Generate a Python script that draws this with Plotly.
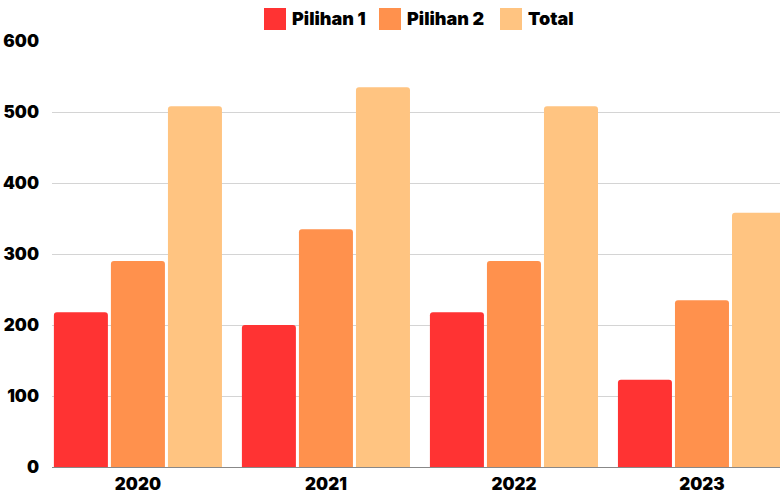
import plotly.graph_objects as go

years = ["2020", "2021", "2022", "2023"]
pilihan1 = [218, 200, 218, 123]
pilihan2 = [290, 335, 290, 235]
total = [508, 535, 508, 358]

colors = ["#FF3333", "#FF914D", "#FFC481"]
names = ["Pilihan 1", "Pilihan 2", "Total"]

fig = go.Figure()
for name, vals, c in zip(names, [pilihan1, pilihan2, total], colors):
    fig.add_trace(go.Bar(x=years, y=vals, name=name, showlegend=False,
                         marker=dict(color=c, line=dict(width=0))))

# legend drawn in paper coordinates (pixel positions converted)
W, H = 780, 496
ml, mr, mt, mb = 52, 0, 41, 29
pw, ph = W - ml - mr, H - mt - mb
def px(x):
    return (x - ml) / pw
def py(y):
    return (H - mb - y) / ph

leg_sq = [264, 379, 500]
for name, c, x0 in zip(names, colors, leg_sq):
    fig.add_shape(type="rect", xref="paper", yref="paper",
                  x0=px(x0), x1=px(x0 + 22), y0=py(30), y1=py(8),
                  fillcolor=c, line=dict(width=0))
    fig.add_annotation(xref="paper", yref="paper", x=px(x0 + 26), y=py(19),
                       text=name, showarrow=False, xanchor="left", yanchor="middle",
                       font=dict(size=18, weight=900, color="black"))

fig.update_layout(
    width=W, height=H,
    margin=dict(l=ml, r=mr, t=mt, b=mb, autoexpand=False),
    paper_bgcolor="white", plot_bgcolor="white",
    barmode="group", bargap=0.09, bargroupgap=0.053,
    barcornerradius=3,
    font=dict(family="Inter", size=17, color="black", weight=900),
    showlegend=False,
    xaxis=dict(type="category", range=[-0.457, 3.415], showgrid=False, automargin=False,
               showline=True, linecolor="#888888", linewidth=1,
               tickfont=dict(size=17, weight=900), ticks="", ticklabelstandoff=2),
    yaxis=dict(range=[0, 600], dtick=100, showgrid=True, gridcolor="#d4d4d4", gridwidth=1,
               automargin=False, zeroline=False, tickfont=dict(size=17, weight=900), ticks="",
               ticklabelstandoff=12),
)
fig.write_html("out.html", config={"displayModeBar": False},
               post_script="document.body.style.margin='0';document.body.style.overflow='hidden';")
